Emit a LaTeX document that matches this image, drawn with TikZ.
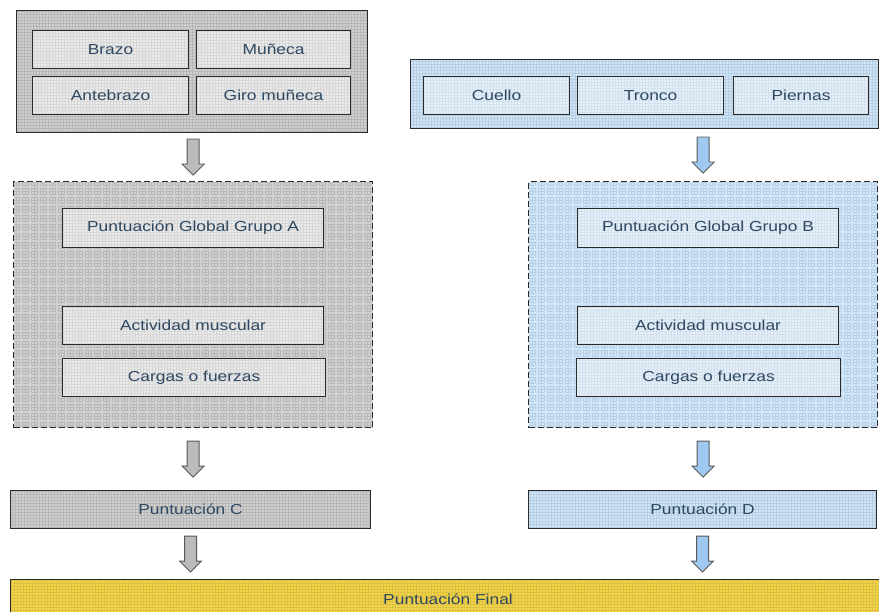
\documentclass[tikz,border=0pt]{standalone}
\usepackage{fontspec}
\setmainfont{Liberation Sans}[FakeStretch=1.2]
\usetikzlibrary{calc}

\definecolor{texto}{HTML}{2E4862}
\definecolor{borde}{HTML}{2A2A2A}
\definecolor{grisfondo}{HTML}{D0D0D0}
\definecolor{grisclaro}{HTML}{EAEAEA}
\definecolor{azulfondo}{HTML}{CFE5FA}
\definecolor{azulclaro}{HTML}{E4F1FC}
\definecolor{amarillo}{HTML}{F6D649}
\definecolor{grisflecha}{HTML}{BBBBBB}
\definecolor{azulflecha}{HTML}{9FC9F0}

% flecha de bloque entre dos cajas: estilo, origen, destino, columna
\newcommand{\flecha}[4]{%
  \draw[#1] let \p1=(#2.south -| #4.center), \p2=(#3.north -| #4.center), \n1={(\y1+\y2)/2} in
    (\x1-6pt,\n1+18pt) -- (\x1+6pt,\n1+18pt) -- (\x1+6pt,\n1-7pt) -- (\x1+11pt,\n1-7pt)
    -- (\x1,\n1-18pt) -- (\x1-11pt,\n1-7pt) -- (\x1-6pt,\n1-7pt) -- cycle;
}

\begin{document}
\begin{tikzpicture}[x=1pt, y=-1pt,
    caja/.style={draw=borde, line width=1.1pt, rectangle, inner sep=0pt, anchor=north west,
      text=texto, font=\fontsize{14.5}{17}\selectfont},
    trama/.style={path picture={\draw[#1, line width=0.2pt, step=3pt]
      (path picture bounding box.south west) grid (path picture bounding box.north east);}},
    cajaA/.style={caja, fill=grisfondo, trama=grisfondo!88!black},
    internaA/.style={caja, fill=grisclaro, trama=grisclaro!92!black},
    cajaB/.style={caja, fill=azulfondo, trama=azulfondo!90!black},
    internaB/.style={caja, fill=azulclaro, trama=azulclaro!93!black},
    marco/.style={dashed, dash pattern=on 6pt off 3pt, line width=1.3pt},
    flechagris/.style={fill=grisflecha, draw=black!65, line width=0.9pt},
    flechaazul/.style={fill=azulflecha, draw=black!65, line width=0.9pt}]
  \clip (0,0) rectangle (879,612);
  \useasboundingbox (0,0) rectangle (879,612);

  % grupo A
  \node[cajaA, minimum width=351pt, minimum height=122pt] (grupoA) at (16,10) {};
  \node[internaA, minimum width=156pt, minimum height=38pt] (brazo) at (32,30) {Brazo};
  \node[internaA, minimum width=154pt, minimum height=38pt] (muneca) at (196,30) {Muñeca};
  \node[internaA, minimum width=156pt, minimum height=38pt] (antebrazo) at (32,76) {Antebrazo};
  \node[internaA, minimum width=154pt, minimum height=38pt] (giro) at (196,76) {Giro muñeca};

  % grupo B
  \node[cajaB, minimum width=468pt, minimum height=69pt] (grupoB) at (410,59) {};
  \node[internaB, minimum width=146pt, minimum height=38pt] (cuello) at (423,76) {Cuello};
  \node[internaB, minimum width=146pt, minimum height=38pt] (tronco) at (577,76) {Tronco};
  \node[internaB, minimum width=135pt, minimum height=38pt] (piernas) at (733,76) {Piernas};

  % marcos punteados
  \node[cajaA, marco, minimum width=359pt, minimum height=246pt] (marcoA) at (13,181) {};
  \node[internaA, minimum width=261pt, minimum height=39pt] (globalA) at (62,208) {Puntuación Global Grupo A};
  \node[internaA, minimum width=261pt, minimum height=38pt] (actividadA) at (62,306) {Actividad muscular};
  \node[internaA, minimum width=263pt, minimum height=38pt] (cargasA) at (62,358) {Cargas o fuerzas};

  \node[cajaB, marco, minimum width=349pt, minimum height=246pt] (marcoB) at (528,181) {};
  \node[internaB, minimum width=261pt, minimum height=39pt] (globalB) at (577,208) {Puntuación Global Grupo B};
  \node[internaB, minimum width=261pt, minimum height=38pt] (actividadB) at (577,306) {Actividad muscular};
  \node[internaB, minimum width=264pt, minimum height=38pt] (cargasB) at (576,358) {Cargas o fuerzas};

  % puntuaciones
  \node[cajaA, minimum width=360pt, minimum height=38pt] (puntC) at (10,490) {Puntuación C};
  \node[cajaB, minimum width=348pt, minimum height=38pt] (puntD) at (528,490) {Puntuación D};
  \node[caja, fill=amarillo, trama=amarillo!90!black, minimum width=875pt, minimum height=48pt,
    text depth=0pt, align=center] (final) at (10,579) {\raisebox{8pt}{Puntuación Final}};

  % flechas
  \flecha{flechagris}{grupoA}{marcoA}{marcoA}
  \flecha{flechagris}{marcoA}{puntC}{marcoA}
  \flecha{flechagris}{puntC}{final}{puntC}
  \flecha{flechaazul}{grupoB}{marcoB}{marcoB}
  \flecha{flechaazul}{marcoB}{puntD}{marcoB}
  \flecha{flechaazul}{puntD}{final}{puntD}
\end{tikzpicture}
\end{document}
